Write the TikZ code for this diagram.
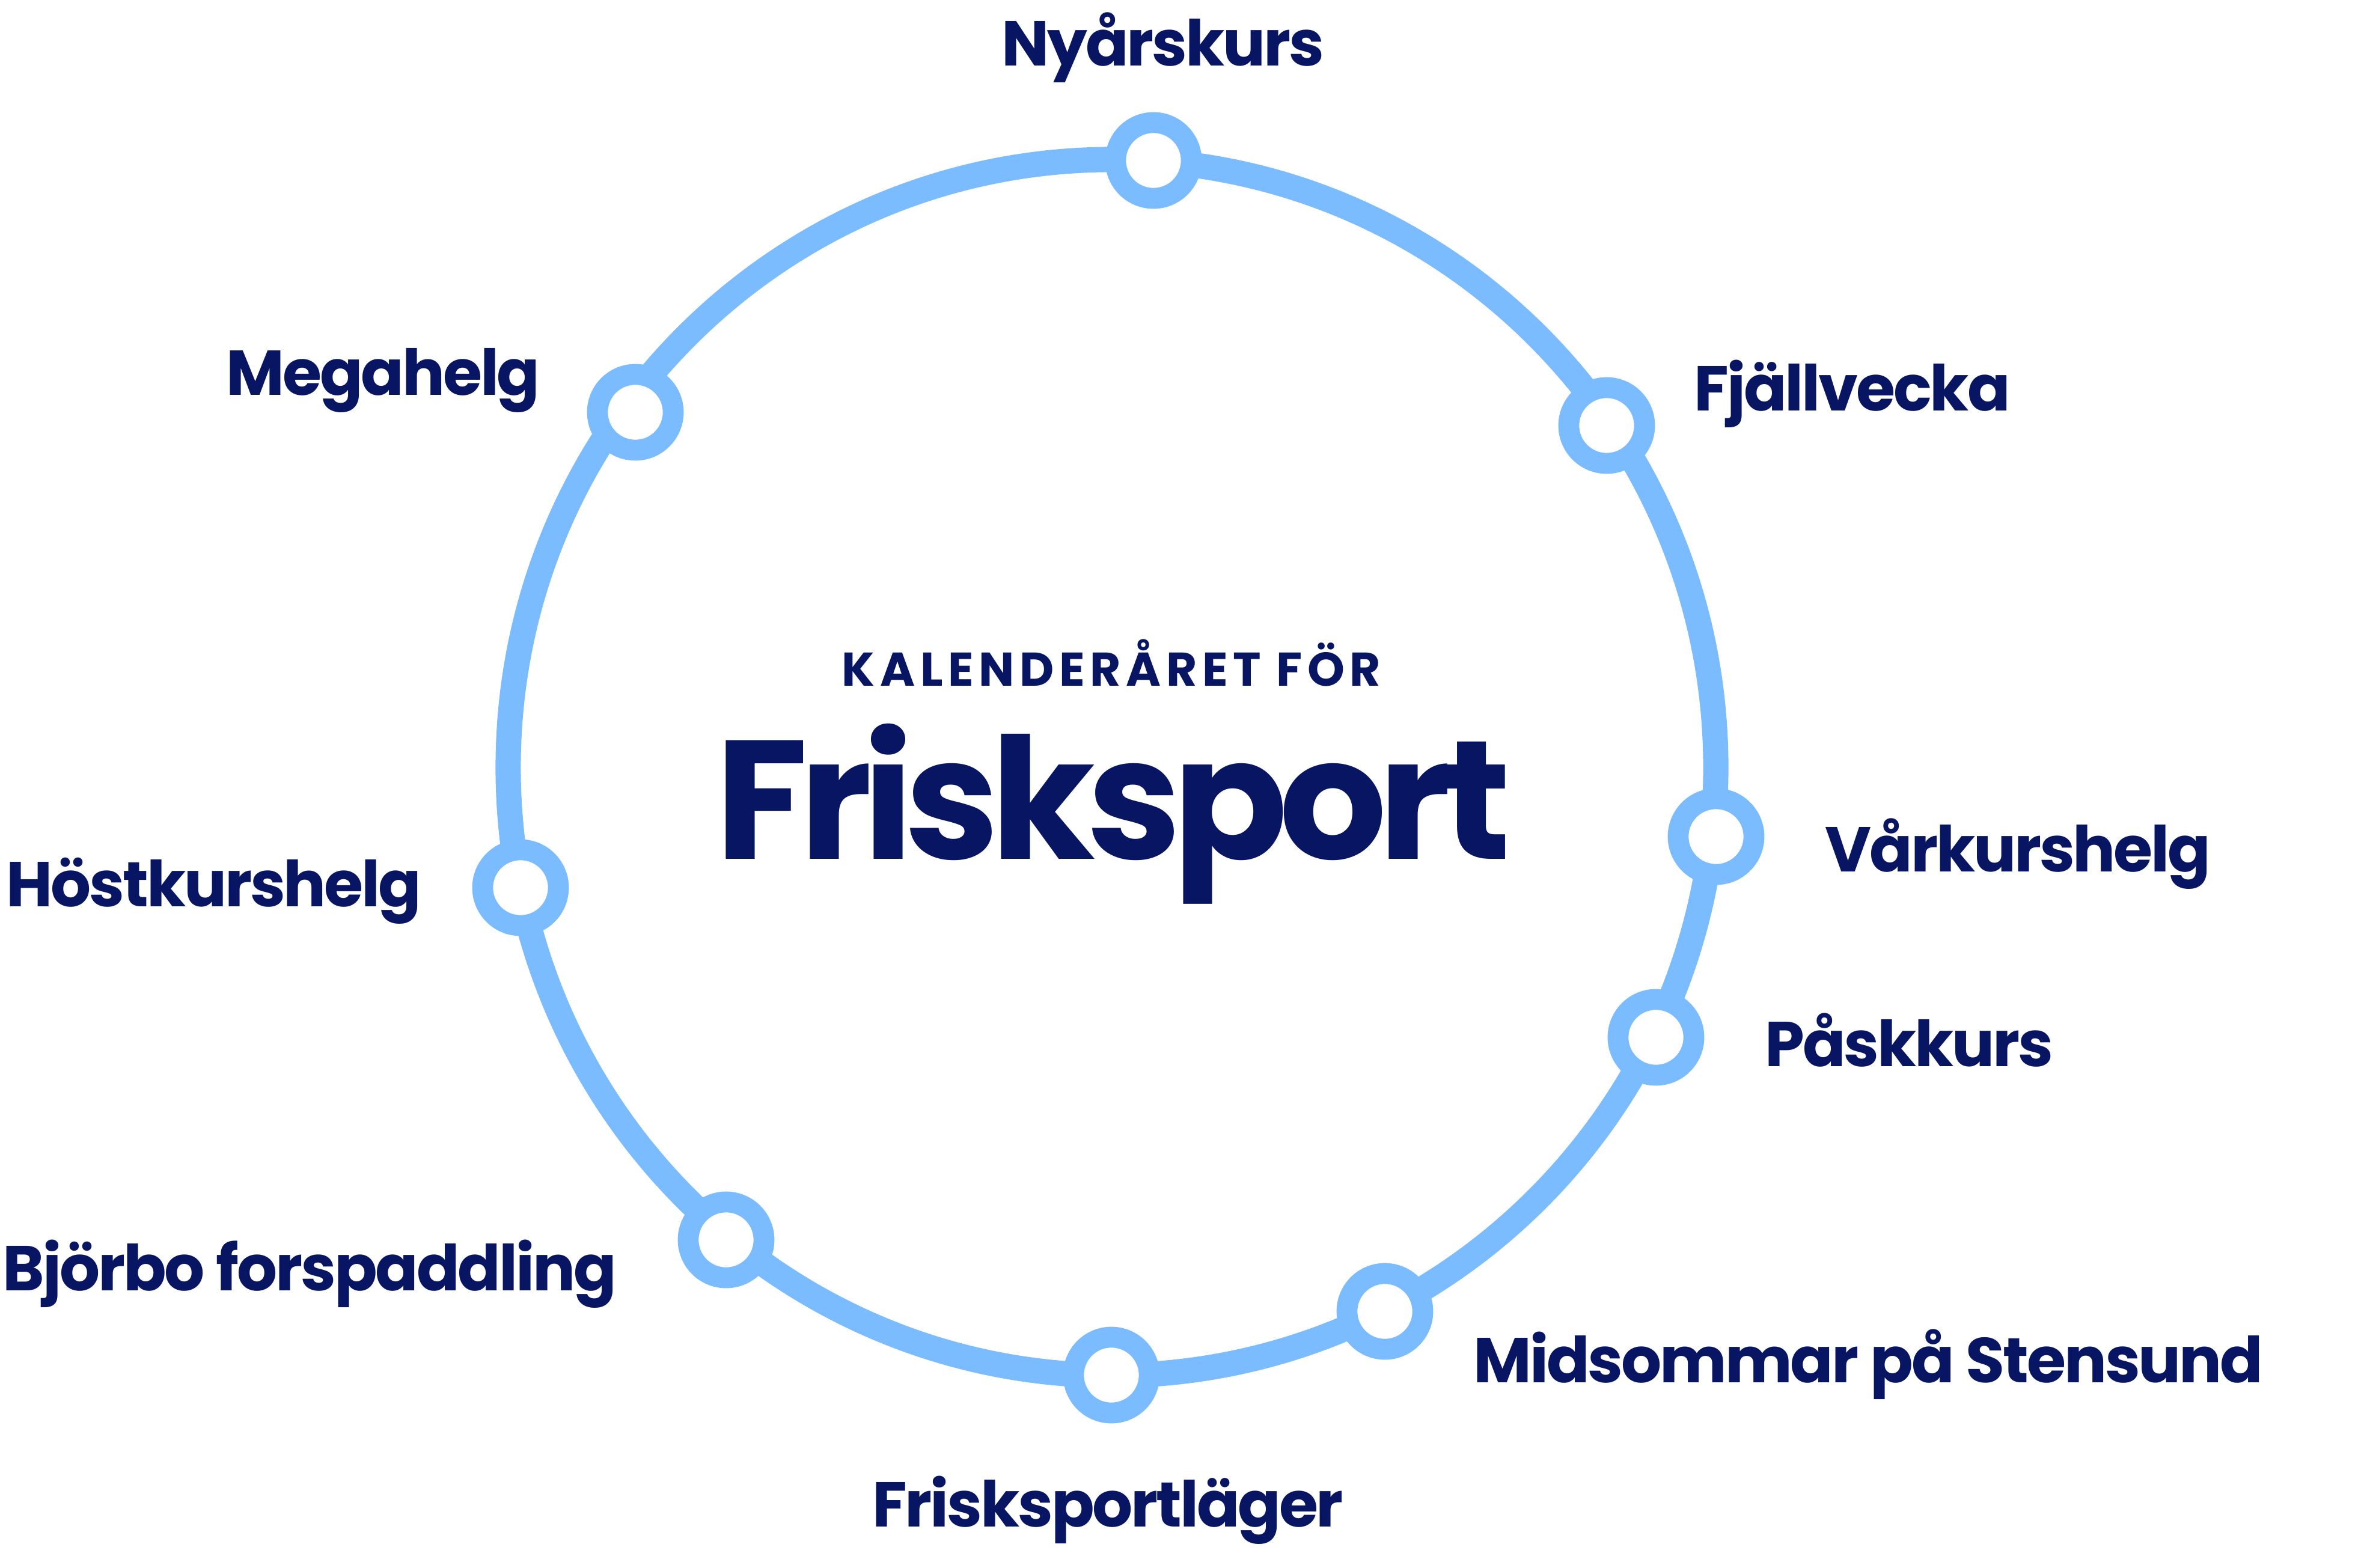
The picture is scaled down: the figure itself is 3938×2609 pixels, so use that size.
\documentclass[tikz,border=0pt]{standalone}
\usepackage{fontspec}
\setmainfont{Poppins}
\definecolor{ringblue}{RGB}{122,188,255}
\definecolor{navy}{RGB}{8,21,99}
\tikzset{
  stop/.style={circle, draw=ringblue, line width=0.347cm, fill=white, minimum size=1.26cm, inner sep=0pt},
  lab/.style={font=\bfseries\fontsize{30}{34}\selectfont\addfontfeature{LetterSpace=-3}, text=navy, inner sep=0pt},
}
\begin{document}
\begin{tikzpicture}[x=0.01cm,y=-0.01cm]
\useasboundingbox (0,0) rectangle (3938,2609);
\coordinate (c) at (1850,1277);
\draw[ringblue, line width=0.42cm] (c) ellipse [x radius=10.04cm, y radius=10.11cm];
\node[stop] (n1) at (1919,267) {};
\node[stop] (n2) at (2673,708) {};
\node[stop] (n3) at (2855,1392) {};
\node[stop] (n4) at (2755,1726) {};
\node[stop] (n5) at (2304,2182) {};
\node[stop] (n6) at (1849,2288) {};
\node[stop] (n7) at (1208,2063) {};
\node[stop] (n8) at (866,1477) {};
\node[stop] (n9) at (1057,686) {};
\node[lab, anchor=base] (l1) at (1935,110) {Nyårskurs};
\node[lab, anchor=base west] (l2) at (2818,683) {Fjällvecka};
\node[lab, anchor=base west] (l3) at (3036,1450) {Vårkurshelg};
\node[lab, anchor=base west] (l4) at (2936,1774) {Påskkurs};
\node[lab, anchor=base west] (l5) at (2451,2300) {Midsommar på Stensund};
\node[lab, anchor=base] (l6) at (1843,2540) {Frisksportläger};
\node[lab, anchor=base west] (l7) at (4,2147) {Björbo forspaddling};
\node[lab, anchor=base west] (l8) at (10,1508) {Höstkurshelg};
\node[lab, anchor=base west] (l9) at (376,657) {Megahelg};
\node[inner sep=0pt, anchor=base, text=navy, font=\bfseries\fontsize{22.4}{26}\selectfont\addfontfeature{LetterSpace=11}] (t1) at (1849,1141) {KALENDERÅRET FÖR};
\node[inner sep=0pt, anchor=base, text=navy, font=\bfseries\fontsize{80}{88}\selectfont\addfontfeature{LetterSpace=-5}] (t2) at (1852,1429) {Frisksport};
\end{tikzpicture}
\end{document}
